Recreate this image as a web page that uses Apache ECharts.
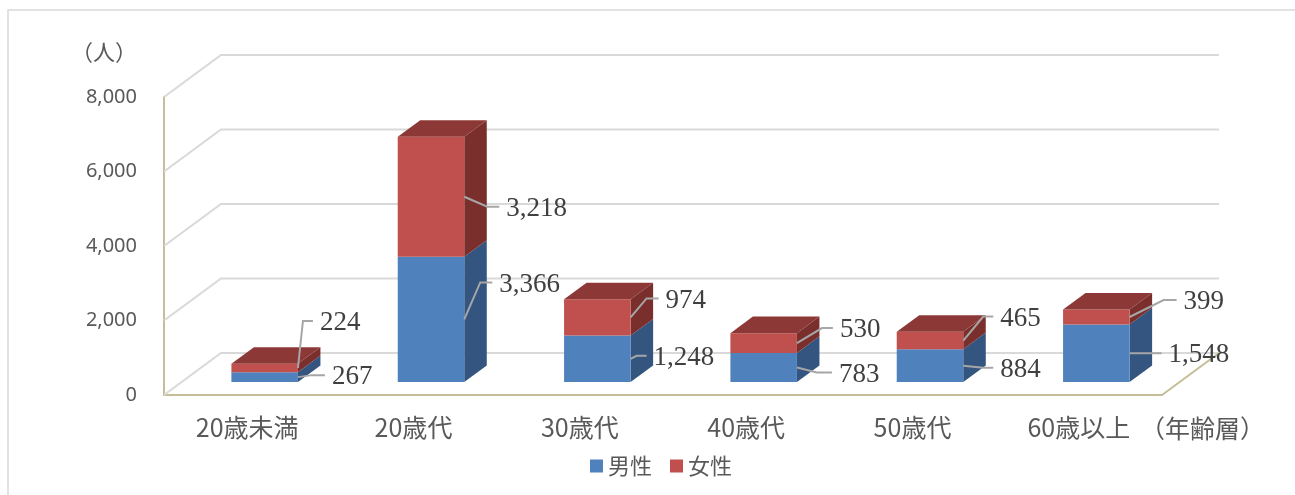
<!DOCTYPE html>
<html>
<head>
<meta charset="utf-8">
<script src="https://cdn.jsdelivr.net/npm/echarts@6/dist/echarts.min.js"></script>
<style>
html,body{margin:0;padding:0;background:#fff;}
#chart{width:1295px;height:495px;}
</style>
</head>
<body>
<div id="chart"></div>
<script>
// ---- data ----
const categories = ['20歳未満', '20歳代', '30歳代', '40歳代', '50歳代', '60歳以上'];
const male = [267, 3366, 1248, 783, 884, 1548];
const female = [224, 3218, 974, 530, 465, 399];
const yTicks = [0, 2000, 4000, 6000, 8000];
const seriesNames = ['男性', '女性'];

// ---- style / geometry (not data) ----
const DX = 57, DY = 42;          // depth of the 3D box (pixels)
const Z0 = 0.307, ZD = 0.395;    // bar depth start & thickness (fraction of depth)
const BAR_W = 0.4;               // bar width as fraction of band
const styles = {
  '男性': {front: '#4F81BD', side: '#34557F', top: '#3E6699'},
  '女性': {front: '#C0504D', side: '#7B2F2D', top: '#8C3836'}
};
// leader offsets: [elbowDx, elbowDy, horizontalLen]
const leaderMale = [[14, -2, 13], [16, -37, 12], [6, -3, 10], [20, 5, 15], [20, 2, 10], [16, 0, 16]];
const leaderFemale = [[5, -47, 10], [23, 10, 12], [16, -19, 12], [25, -15, 11], [20, -24, 10], [34, -17, 13]];

const fmt = v => v.toLocaleString('en-US');

function barData(vals, bases) {
  return vals.map((v, i) => [i, bases ? bases[i] : 0, v]);
}

function makeBarSeries(name, vals, bases, leaders, isTop) {
  const st = styles[name];
  return {
    name: name,
    type: 'custom',
    z: 5,
    itemStyle: {color: st.front},
    encode: {x: 0, y: [1, 2]},
    data: barData(vals, bases),
    renderItem: function (params, api) {
      const i = api.value(0), base = api.value(1), val = api.value(2);
      const c = api.coord([i, base]);
      const t = api.coord([i, base + val]);
      const band = api.size([1, 0])[0];
      const w = band * BAR_W;
      const xL = c[0] - w / 2 + DX * Z0, xR = xL + w;
      const yB = c[1] - DY * Z0, yT = t[1] - DY * Z0;
      const dx = DX * ZD, dy = DY * ZD;
      const children = [];
      children.push({type: 'polygon', shape: {points: [[xR, yB], [xR + dx, yB - dy], [xR + dx, yT - dy], [xR, yT]]}, style: {fill: st.side}});
      children.push({type: 'rect', shape: {x: xL, y: yT, width: w, height: yB - yT}, style: {fill: st.front}});
      if (isTop) {
        children.push({type: 'polygon', shape: {points: [[xL, yT], [xL + dx, yT - dy], [xR + dx, yT - dy], [xR, yT]]}, style: {fill: st.top}});
      }
      const lo = leaders[i];
      const ax = xR, ay = (yB + yT) / 2;
      const ex = ax + lo[0], ey = ay + lo[1];
      const hx = ex + lo[2];
      children.push({type: 'polyline', shape: {points: [[ax, ay], [ex, ey], [hx, ey]]}, style: {stroke: '#a6a6a6', lineWidth: 2, fill: null}, z2: 10});
      children.push({type: 'text', x: hx + 7, y: ey + 2, z2: 11,
        style: {text: fmt(val), fill: '#404040', fontFamily: '"Liberation Serif", "DejaVu Serif", serif', fontSize: 27, verticalAlign: 'middle', align: 'left'}});
      return {type: 'group', children: children};
    }
  };
}

const chart = echarts.init(document.getElementById('chart'), null, {renderer: 'canvas'});

const wallSeries = {
  name: 'walls',
  type: 'custom',
  z: 1,
  silent: true,
  encode: {x: 0, y: 1},
  data: yTicks.map(v => [0, v]),
  renderItem: function (params, api) {
    const cs = params.coordSys;
    const v = api.value(1);
    const y = api.coord([0, v])[1];
    const x0 = cs.x, x1 = cs.x + cs.width;
    const children = [{
      type: 'polyline',
      shape: {points: [[x0, y], [x0 + DX, y - DY], [x1 + DX, y - DY]]},
      style: {stroke: '#d9d9d9', lineWidth: 2, fill: null}
    }];
    if (v === 0) {
      children.push({type: 'line', shape: {x1: x1, y1: y, x2: x1 + DX, y2: y - DY}, style: {stroke: '#c4bd97', lineWidth: 2}});
    }
    return {type: 'group', children: children};
  }
};

const option = {
  backgroundColor: '#fff',
  animation: false,
  grid: {left: 164, right: 133, top: 97, bottom: 100},
  graphic: [
    {type: 'rect', silent: true, shape: {x: 8, y: 10, width: 1400, height: 600}, style: {fill: null, stroke: '#d9d9d9', lineWidth: 1.5}},
    {type: 'text', x: 71, y: 52, style: {text: '（人）', fill: '#595959', fontSize: 22, fontFamily: '"Noto Sans CJK JP", sans-serif', verticalAlign: 'middle'}},
    {type: 'text', x: 1140, y: 428, style: {text: '（年齢層）', fill: '#595959', fontSize: 25, fontFamily: '"Noto Sans CJK JP", sans-serif', verticalAlign: 'middle'}}
  ],
  legend: {
    data: seriesNames,
    left: 585,
    top: 450,
    icon: 'rect',
    itemWidth: 13,
    itemHeight: 13,
    itemGap: 18,
    textStyle: {color: '#595959', fontSize: 22, fontFamily: '"Noto Sans CJK JP", sans-serif'}
  },
  xAxis: {
    type: 'category',
    data: categories,
    axisLine: {show: true, lineStyle: {color: '#c4bd97', width: 2}},
    axisTick: {show: false},
    axisLabel: {color: '#595959', fontSize: 25, fontFamily: '"Noto Sans CJK JP", sans-serif', margin: 20},
    splitLine: {show: false}
  },
  yAxis: {
    type: 'value',
    min: 0, max: 8000, interval: 2000,
    axisLine: {show: true, lineStyle: {color: '#c4bd97', width: 2}},
    axisTick: {show: false},
    axisLabel: {color: '#595959', fontSize: 20, fontFamily: '"Noto Sans", sans-serif', margin: 27, formatter: v => fmt(v)},
    splitLine: {show: false}
  },
  series: [
    wallSeries,
    makeBarSeries('男性', male, null, leaderMale, false),
    makeBarSeries('女性', female, male, leaderFemale, true)
  ]
};
chart.setOption(option);
</script>
</body>
</html>
